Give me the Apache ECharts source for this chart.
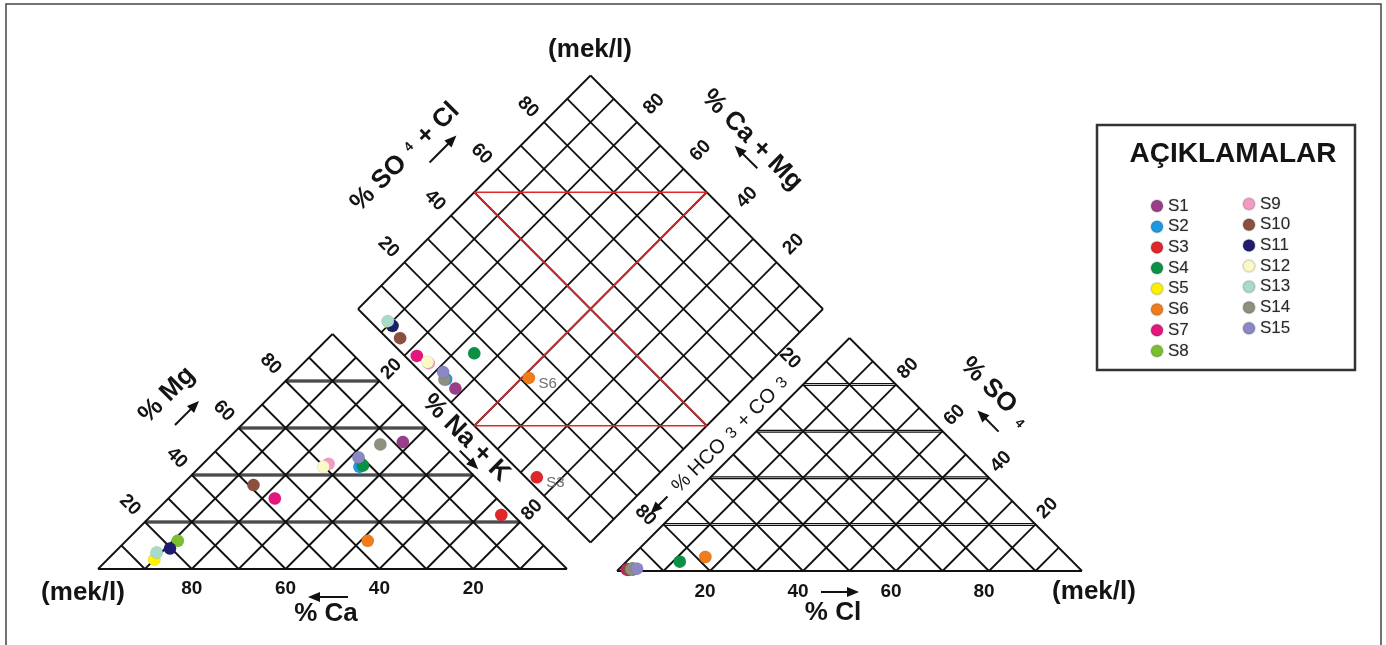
<!DOCTYPE html>
<html><head><meta charset="utf-8">
<script src="https://cdn.jsdelivr.net/npm/echarts@6/dist/echarts.min.js"></script>
<style>html,body{margin:0;padding:0;background:#fff}#c{width:1386px;height:645px}</style>
</head><body><div id="c"></div>
<script>
// ---------------- DATA ----------------
const samples = ['S1','S2','S3','S4','S5','S6','S7','S8','S9','S10','S11','S12','S13','S14','S15'];
// cations (% meq/l)
const mgPct  = [54, 43.5, 23, 44, 4, 12, 30, 12, 44.7, 35.7, 8.7, 43.5, 7, 53, 47.5];
const naKPct = [38, 34, 74.5, 34.5, 10, 51.5, 22.7, 11, 26.8, 15.3, 11, 26.3, 9, 33.7, 31.8];
// anions (% meq/l)
const so4Pct = [1.0, 0.8, 0.6, 4.0, 0.8, 6.0, 0.6, 1.0, 0.8, 0.6, 0.8, 0.8, 0.9, 0.8, 1.0];
const clPct  = [2.9, 3.1, 1.8, 11.5, 3.0, 16.0, 2.0, 2.8, 2.8, 2.2, 3.0, 2.8, 2.9, 2.7, 3.8];
const labelledSamples = ['S6', 'S3'];
const axisTicks = [20, 40, 60, 80];
const edgeTicks = [20, 80];
const gridSteps = [0, 10, 20, 30, 40, 50, 60, 70, 80, 90, 100];

// ---------------- STYLE / LAYOUT ----------------
const palette = ['#9a3e89','#1e98e0','#e0262a','#0b9146','#fff200','#ef7d1c','#e5157e','#79bf2f',
                 '#f39bc2','#8b5040','#1f1b6f','#fdf9c6','#a8dcc8','#8f8f80','#8c87c5'];
const FONT = '"Liberation Sans", Arial, sans-serif';
const L = {x0: 98, y0: 569, w: 469, h: 235};     // cation triangle
const R = {x0: 617, y0: 571, w: 465, h: 233};    // anion triangle
const D = {x0: 358, y0: 309, w: 232.5, h: 233.5}; // diamond (left vertex, half sizes)

function cat(nak, mg) { return [L.x0 + (nak + mg / 2) * L.w / 100, L.y0 - mg * L.h / 100]; }
function ani(cl, so4) { return [R.x0 + (cl + so4 / 2) * R.w / 100, R.y0 - so4 * R.h / 100]; }
function dia(nak, sc) { return [D.x0 + (nak + sc) * D.w / 100, D.y0 + (nak - sc) * D.h / 100]; }

// ---------------- GRID SEGMENTS ----------------
const thin = [], dbl = [], red = [];
function seg(arr, p, q) { arr.push([p[0], p[1], q[0], q[1]]); }
gridSteps.forEach(k => {
  if (k < 100) {
    seg(thin, cat(k, 0), cat(k, 100 - k));          // Na+K constant
    seg(thin, cat(100 - k, 0), cat(0, 100 - k));    // Ca constant
    seg(thin, ani(k, 0), ani(k, 100 - k));          // Cl constant
    seg(thin, ani(100 - k, 0), ani(0, 100 - k));    // HCO3 constant
  }
  seg(thin, dia(k, 0), dia(k, 100));
  seg(thin, dia(0, k), dia(100, k));
});
seg(thin, cat(0, 0), cat(100, 0));
seg(thin, ani(0, 0), ani(100, 0));
axisTicks.forEach(k => {
  seg(dbl, cat(0, k), cat(100 - k, k));
  seg(dbl, ani(0, k), ani(100 - k, k));
});
seg(red, dia(0, 50), dia(100, 50));
seg(red, dia(50, 0), dia(50, 100));
seg(red, dia(0, 50), dia(50, 100));
seg(red, dia(50, 0), dia(100, 50));

function lineSeries(data, stroke, width, z, double) {
  return {
    type: 'custom', coordinateSystem: 'cartesian2d', silent: true, z: z, animation: false,
    data: data, encode: {x: [0, 2], y: [1, 3]},
    renderItem(params, api) {
      const p = api.coord([api.value(0), api.value(1)]);
      const q = api.coord([api.value(2), api.value(3)]);
      const st = {stroke: stroke, lineWidth: width, fill: null};
      if (!double) return {type: 'line', shape: {x1: p[0], y1: p[1], x2: q[0], y2: q[1]}, style: st};
      return {type: 'group', children: [-0.9, 0.9].map(o => ({
        type: 'line', shape: {x1: p[0], y1: p[1] + o, x2: q[0], y2: q[1] + o}, style: st}))};
    }
  };
}

function tickSeries(points, texts, opt) {
  return {
    type: 'custom', coordinateSystem: 'cartesian2d', silent: true, z: 5, animation: false,
    data: points.map(p => [p[0], p[1]]),
    renderItem(params, api) {
      const p = api.coord([api.value(0), api.value(1)]);
      const off = opt.offsets ? opt.offsets[params.dataIndex] : opt.off;
      return {type: 'text', x: p[0] + off[0], y: p[1] + off[1], rotation: opt.rot * Math.PI / 180,
        style: {text: String(texts[params.dataIndex]), fontSize: 19, fontWeight: 'bold', fontFamily: FONT,
          fill: '#141414', align: 'center', verticalAlign: 'middle'}};
    }
  };
}

const caTicks = axisTicks.slice().reverse();
const camgTicks = axisTicks.slice().reverse();
const tickSeriesList = [
  tickSeries(caTicks.map(v => cat(100 - v, 0)), caTicks, {off: [0, 20], rot: 0}),
  tickSeries(axisTicks.map(v => cat(0, v)), axisTicks, {off: [-15, -17], rot: -45}),
  tickSeries(edgeTicks.map(v => cat(v, 100 - v)), edgeTicks, {off: [12, -12], rot: 45}),
  tickSeries(axisTicks.map(v => ani(v, 0)), axisTicks, {off: [-5, 21], rot: 0}),
  tickSeries(axisTicks.map(v => ani(100 - v, v)), axisTicks, {off: [12, -16], rot: 45}),
  tickSeries(edgeTicks.map(v => ani(0, 100 - v)), edgeTicks, {offsets: [[-13, -26], [-18, -9]], rot: -45}),
  tickSeries(axisTicks.map(v => dia(0, v)), axisTicks, {off: [-16, -15], rot: -45}),
  tickSeries(camgTicks.map(v => dia(100 - v, 100)), camgTicks, {off: [17, -18], rot: 45})
];

const sampleSeries = samples.map((name, i) => {
  const sc = so4Pct[i] + clPct[i];
  const dp = {value: dia(naKPct[i], sc)};
  if (labelledSamples.indexOf(name) >= 0) {
    dp.label = {show: true, formatter: name, position: 'right', distance: 3, offset: [0, 6],
      color: '#6e6e6e', fontSize: 15, fontFamily: FONT};
  }
  return {
    name: name, type: 'scatter', symbol: 'circle', symbolSize: 12.5, z: 10, animation: false,
    itemStyle: {color: palette[i], opacity: 1, borderColor: 'rgba(0,0,0,0.12)', borderWidth: 0.6},
    data: [cat(naKPct[i], mgPct[i]), ani(clPct[i], so4Pct[i]), dp]
  };
});

// ---------------- GRAPHIC (titles, arrows, frames) ----------------
function arrow(cx, cy, ang, len) {
  return {type: 'group', x: cx, y: cy, rotation: ang * Math.PI / 180, children: [
    {type: 'line', shape: {x1: -len / 2, y1: 0, x2: len / 2 - 8, y2: 0}, style: {stroke: '#111', lineWidth: 2}},
    {type: 'polygon', shape: {points: [[len / 2, 0], [len / 2 - 12, -5], [len / 2 - 12, 5]]}, style: {fill: '#111'}}
  ]};
}
function txt(x, y, text, size, rot, extra) {
  return {type: 'text', x: x, y: y, rotation: (rot || 0) * Math.PI / 180, z: 20,
    style: Object.assign({text: text, fontSize: size, fontWeight: 'bold', fontFamily: FONT, fill: '#141414',
      align: 'center', verticalAlign: 'middle'}, extra || {})};
}
const subRich = {s: {fontSize: 13, fontWeight: 'bold', fontFamily: FONT, fill: '#141414', padding: [0, 2, 8, 2]}};
const subRichN = {s: {fontSize: 16, fontFamily: FONT, fill: '#141414', padding: [0, 2, 0, 2]}};

const graphics = [
  {type: 'rect', shape: {x: 6, y: 4, width: 1375, height: 680}, style: {fill: null, stroke: '#444', lineWidth: 1.5}, z: 1},
  {type: 'rect', shape: {x: 1097, y: 125, width: 258, height: 245}, style: {fill: '#fff', stroke: '#333', lineWidth: 2.5}, z: 0},
  txt(1233, 154, 'AÇIKLAMALAR', 28, 0),
  txt(590, 50, '(mek/l)', 26, 0),
  txt(83, 593, '(mek/l)', 26, 0),
  txt(1094, 592, '(mek/l)', 26, 0),
  txt(326, 614, '% Ca', 26, 0),
  txt(833, 613, '% Cl', 26, 0),
  txt(167, 395, '% Mg', 26, 45),
  txt(466, 438, '% Na + K', 26, -45),
  txt(405, 157, '% SO {s|4} + Cl', 26, 45, {rich: subRich}),
  txt(752, 140, '% Ca + Mg', 26, -45),
  txt(731, 434, '% HCO {s|3} + CO {s|3}', 20, 45, {fontWeight: 'normal', rich: subRichN}),
  txt(995, 392, '% SO {s|4}', 26, -45, {rich: {s: {fontSize: 13, fontWeight: 'bold', fontFamily: FONT, fill: '#141414', padding: [10, 0, 0, 4]}}}),
  arrow(328, 597, 180, 40),
  arrow(840, 592, 0, 38),
  arrow(187, 413, 45, 34),
  arrow(469, 460, -45, 26),
  arrow(443, 149, 45, 38),
  arrow(746, 157, 135, 32),
  arrow(659, 505, -135, 24),
  arrow(988, 421, 135, 30)
];

// ---------------- CHART ----------------
const chart = echarts.init(document.getElementById('c'), null, {renderer: 'canvas'});
const legendBase = {orient: 'vertical', icon: 'circle', itemWidth: 12, itemHeight: 12, itemGap: 3.7,
  selectedMode: false, textStyle: {fontSize: 17, lineHeight: 17, color: '#2a2a2a', fontFamily: FONT,
    textShadowColor: 'rgba(0,0,0,0.25)', textShadowBlur: 1.5}};
chart.setOption({
  animation: false,
  backgroundColor: '#ffffff',
  grid: {left: 0, right: 0, top: 0, bottom: 0},
  xAxis: {type: 'value', min: 0, max: 1386, show: false},
  yAxis: {type: 'value', min: 0, max: 645, inverse: true, show: false},
  legend: [
    Object.assign({}, legendBase, {data: samples.slice(0, 8), left: 1145, top: 192.5}),
    Object.assign({}, legendBase, {data: samples.slice(8), left: 1237, top: 190.5})
  ],
  graphic: graphics,
  series: [
    lineSeries(thin, '#111', 1.8, 2, false),
    lineSeries(dbl, '#111', 1.2, 2, true),
    lineSeries(red, '#e02a2a', 1.6, 3, false)
  ].concat(tickSeriesList, sampleSeries)
});
</script>
</body></html>
